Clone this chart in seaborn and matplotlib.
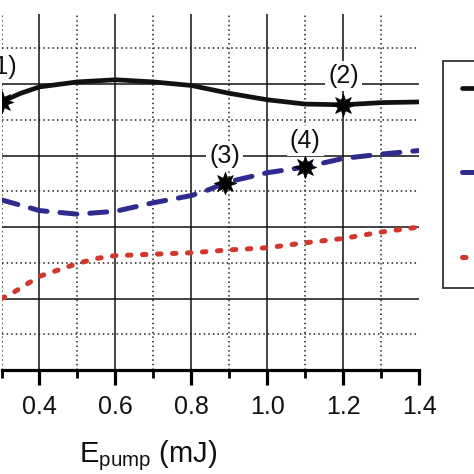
import matplotlib
matplotlib.use("Agg")
import matplotlib.pyplot as plt
import seaborn as sns
from matplotlib.lines import Line2D
from matplotlib.ticker import MultipleLocator

# ---- data ----
x_black = [0.30, 0.35, 0.40, 0.50, 0.60, 0.70, 0.80, 0.90, 1.00, 1.10, 1.20, 1.30, 1.40]
y_black = [3.75, 3.87, 3.96, 4.03, 4.06, 4.03, 3.98, 3.87, 3.78, 3.72, 3.71, 3.74, 3.75]

x_blue = [0.30, 0.40, 0.50, 0.60, 0.70, 0.80, 0.85, 0.888, 1.00, 1.10, 1.20, 1.30, 1.40]
y_blue = [2.38, 2.23, 2.18, 2.22, 2.34, 2.44, 2.53, 2.62, 2.76, 2.84, 2.96, 3.02, 3.07]

x_red = [0.30, 0.33, 0.36, 0.40, 0.45, 0.50, 0.55, 0.60, 0.70, 0.80, 0.90, 1.00, 1.10, 1.20, 1.30, 1.40]
y_red = [1.00, 1.08, 1.18, 1.31, 1.40, 1.49, 1.56, 1.60, 1.62, 1.64, 1.68, 1.71, 1.78, 1.84, 1.93, 2.00]

star_x = [0.30, 1.20, 0.888, 1.10]
star_y = [3.75, 3.71, 2.62, 2.84]
star_labels = ["(1)", "(2)", "(3)", "(4)"]
label_offsets = [25, 21, 19.5, 18.5]

xticks = [0.4, 0.6, 0.8, 1.0, 1.2, 1.4]
xticklabels = ["0.4", "0.6", "0.8", "1.0", "1.2", "1.4"]

# ---- style ----
sns.set_theme(style="white")
plt.rcParams["font.family"] = ["Liberation Sans", "DejaVu Sans"]
plt.rcParams["mathtext.fontset"] = "custom"
plt.rcParams["mathtext.rm"] = "Liberation Sans"
plt.rcParams["mathtext.it"] = "Liberation Sans:italic"

BLACK = "#111111"
BLUE = "#2f2a8e"
RED = "#d2372b"
BLUE_LS = (0, (3.4, 2.6))
RED_LS = (0, (0.7, 2.3))

fig = plt.figure(figsize=(4.74, 4.74), dpi=100)
ax = fig.add_axes([1.5 / 474, 104 / 474, 417.8 / 474, 356 / 474])

sns.lineplot(x=x_black, y=y_black, ax=ax, color=BLACK, lw=3.4, zorder=3,
             solid_capstyle="round")
sns.lineplot(x=x_blue, y=y_blue, ax=ax, color=BLUE, lw=3.6, zorder=3,
             linestyle=BLUE_LS, dash_capstyle="round")
sns.lineplot(x=x_red, y=y_red, ax=ax, color=RED, lw=3.6, zorder=3,
             linestyle=RED_LS, dash_capstyle="round")

sns.scatterplot(x=star_x, y=star_y, ax=ax, marker=(8, 1, 0), s=260,
                color="black", edgecolor="black", linewidth=0.5, zorder=5)

for sx, sy, lab, off in zip(star_x, star_y, star_labels, label_offsets):
    ax.annotate(lab, (sx, sy), xytext=(0, off), textcoords="offset points",
                ha="center", va="center", fontsize=18, color="#111111",
                bbox=dict(boxstyle="square,pad=0.12", fc="white", ec="none"),
                annotation_clip=False, zorder=4)

ax.set_xlim(0.3, 1.4)
ax.set_ylim(0, 4.98)
ax.set_xticks(xticks, labels=xticklabels)
ax.xaxis.set_minor_locator(MultipleLocator(0.1))
ax.yaxis.set_major_locator(MultipleLocator(1.0))
ax.yaxis.set_minor_locator(MultipleLocator(0.5))

ax.grid(which="major", color="#111111", lw=1.1, ls="-", zorder=1)
ax.grid(which="minor", color="#222222", lw=1.1, ls=(0, (1, 2.0)), zorder=1)
ax.set_axisbelow(True)
ax.xaxis.get_major_ticks()[-1].gridline.set_visible(False)

for side in ["left", "top", "right"]:
    ax.spines[side].set_visible(False)
ax.spines["bottom"].set_color("black")
ax.spines["bottom"].set_linewidth(2.3)

ax.tick_params(axis="x", which="major", direction="out", length=11, width=2.3,
               color="black", labelsize=18, pad=7, labelcolor="#111111", bottom=True)
ax.tick_params(axis="x", which="minor", direction="out", length=6, width=2.0,
               color="black", bottom=True)
ax.tick_params(axis="y", which="both", left=False, labelleft=False)

ax.set_xlabel(r"$\mathrm{E}_{\mathrm{pump}}$ (mJ)", fontsize=21, color="#111111")
ax.xaxis.set_label_coords((148 - 1.5) / 417.8, -(438 - 370) / 356)
ax.xaxis.label.set_va("top")

handles = [
    Line2D([], [], color=BLACK, lw=3.4, solid_capstyle="round"),
    Line2D([], [], color=BLUE, lw=3.6, linestyle=BLUE_LS, dash_capstyle="round"),
    Line2D([], [], color=RED, lw=3.6, linestyle=RED_LS, dash_capstyle="round"),
]
leg = ax.legend(handles, ["", "", ""], loc="upper left",
                bbox_to_anchor=(443 / 474, 1 - 61 / 474), bbox_transform=fig.transFigure,
                frameon=True, fancybox=False, fontsize=16, borderpad=0.85,
                labelspacing=2.85, handlelength=2.0, borderaxespad=0)
leg.get_frame().set_edgecolor("black")
leg.get_frame().set_linewidth(1.3)

fig.savefig("out.png", dpi=100)
